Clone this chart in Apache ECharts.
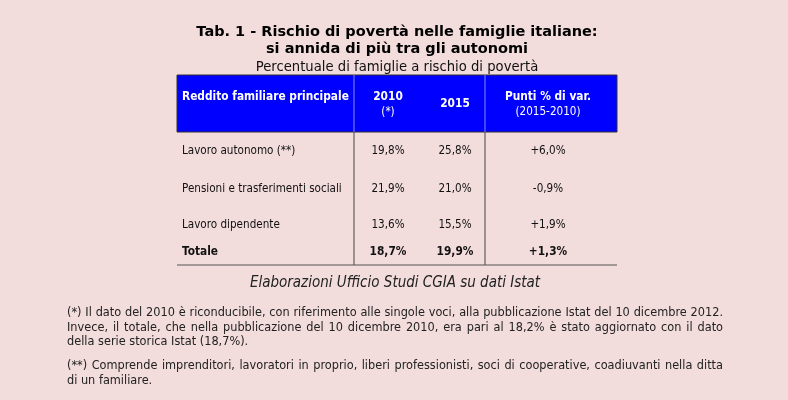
<!DOCTYPE html>
<html>
<head>
<meta charset="utf-8">
<script src="https://cdn.jsdelivr.net/npm/echarts@6/dist/echarts.min.js"></script>
<style>
  html, body { margin: 0; padding: 0; background: #f3dcdc; }
  #tabella { width: 788px; height: 400px; }
</style>
</head>
<body>
<div id="tabella"></div>
<script>
// dati della tabella
const titleLines = ['Tab. 1 - Rischio di povertà nelle famiglie italiane:', 'si annida di più tra gli autonomi'];
const subtitle = 'Percentuale di famiglie a rischio di povertà';
const headTop = ['Reddito familiare principale', '2010', '2015', 'Punti % di var.'];
const headSub = ['', '(*)', '', '(2015-2010)'];
const categories = ['Lavoro autonomo (**)', 'Pensioni e trasferimenti sociali', 'Lavoro dipendente', 'Totale'];
const v2010 = [19.8, 21.9, 13.6, 18.7];
const v2015 = [25.8, 21.0, 15.5, 19.9];
const varPunti = [6.0, -0.9, 1.9, 1.3];
const source = 'Elaborazioni Ufficio Studi CGIA su dati Istat';
const note1 = [
    '(*) Il dato del 2010 è riconducibile, con riferimento alle singole voci, alla pubblicazione Istat del 10 dicembre 2012.',
    'Invece, il totale, che nella pubblicazione del 10 dicembre 2010, era pari al 18,2% è stato aggiornato con il dato',
    'della serie storica Istat (18,7%).'
];
const note2 = [
    '(**) Comprende imprenditori, lavoratori in proprio, liberi professionisti, soci di cooperative, coadiuvanti nella ditta',
    'di un familiare.'
];

// layout
const tabLeft = 177, tabRight = 617;
const headTopY = 75, headBottomY = 132, tabBottomY = 265;
const colLines = [354, 485];
const colX = [182, 388, 455, 548];
const rowY = [151, 189, 225, 252];

const fmt = (v, sign) => (sign && v > 0 ? '+' : '') + v.toFixed(1).replace('.', ',') + '%';

const fBody = '11.6px "DejaVu Sans Condensed"';
const fBold = 'bold 11.8px "DejaVu Sans Condensed"';
const fNote = '12.6px "DejaVu Sans Condensed"';

function txt(x, y, text, font, align, color) {
    return {
        type: 'text', x: x, y: y, silent: true,
        style: {
            text: text, font: font, fill: color || '#111',
            align: align || 'left', verticalAlign: 'middle',
            textAlign: align || 'left', textVerticalAlign: 'middle'
        }
    };
}

var graphic = [];

titleLines.forEach((t, i) => {
    graphic.push(txt(397, 32 + i * 17, t, 'bold 14.5px "DejaVu Sans"', 'center', '#000'));
});
graphic.push(txt(397, 68, subtitle, '13.2px "DejaVu Sans"', 'center', '#111'));

// intestazione blu
graphic.push({
    type: 'rect', silent: true,
    shape: { x: tabLeft, y: headTopY, width: tabRight - tabLeft, height: headBottomY - headTopY },
    style: { fill: '#0000ff', stroke: '#333', lineWidth: 1 }
});
colLines.forEach(x => {
    graphic.push({ type: 'line', silent: true, shape: { x1: x, y1: headTopY, x2: x, y2: headBottomY },
        style: { stroke: '#8a8aff', lineWidth: 1 } });
    graphic.push({ type: 'line', silent: true, shape: { x1: x, y1: headBottomY, x2: x, y2: tabBottomY },
        style: { stroke: '#444', lineWidth: 1 } });
});
graphic.push({ type: 'line', silent: true, shape: { x1: tabLeft, y1: tabBottomY, x2: tabRight, y2: tabBottomY },
    style: { stroke: '#555', lineWidth: 1.2 } });

headTop.forEach((h, i) => {
    var y = (headSub[i] || i === 0) ? 97 : 104;
    graphic.push(txt(colX[i], y, h, fBold, i === 0 ? 'left' : 'center', '#fff'));
    if (headSub[i]) graphic.push(txt(colX[i], 112, headSub[i], fBody, 'center', '#fff'));
});

categories.forEach((c, r) => {
    var last = r === categories.length - 1;
    var f = last ? fBold : fBody;
    graphic.push(txt(colX[0], rowY[r], c, f, 'left'));
    graphic.push(txt(colX[1], rowY[r], fmt(v2010[r]), f, 'center'));
    graphic.push(txt(colX[2], rowY[r], fmt(v2015[r]), f, 'center'));
    graphic.push(txt(colX[3], rowY[r], fmt(varPunti[r], true), f, 'center'));
});

graphic.push(txt(395, 283, source, 'italic 15px "DejaVu Sans Condensed"', 'center', '#222'));

// note giustificate
var ctx = document.createElement('canvas').getContext('2d');
function justified(lines, y0, lh) {
    var left = 67, right = 723;
    ctx.font = fNote;
    lines.forEach((line, i) => {
        var y = y0 + i * lh;
        if (i === lines.length - 1) {
            graphic.push(txt(left, y, line, fNote, 'left', '#222'));
            return;
        }
        var words = line.split(' ');
        var w = words.map(s => ctx.measureText(s).width);
        var tot = w.reduce((a, b) => a + b, 0);
        var gap = Math.max(2, (right - left - tot) / (words.length - 1));
        var x = left;
        words.forEach((s, k) => {
            graphic.push(txt(x, y, s, fNote, 'left', '#222'));
            x += w[k] + gap;
        });
    });
}
justified(note1, 313, 14.5);
justified(note2, 366, 14.5);

var chartDom = document.getElementById('tabella');
var myChart = echarts.init(chartDom, null, { renderer: 'canvas' });
var option = {
    backgroundColor: '#f3dcdc',
    animation: false,
    graphic: graphic
};
option && myChart.setOption(option);
</script>
</body>
</html>
